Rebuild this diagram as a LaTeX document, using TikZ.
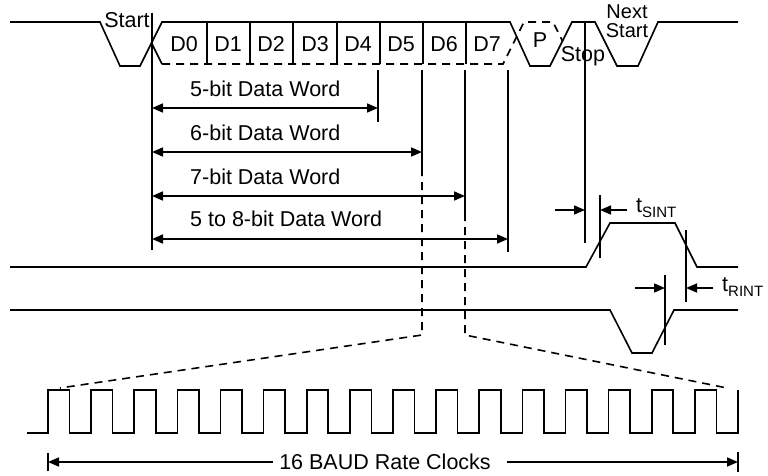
\documentclass[tikz,border=0pt]{standalone}
\usepackage{fontspec}
\setmainfont{Liberation Sans}
\usepackage{tikz}
\usetikzlibrary{arrows.meta}
\tikzset{sig/.style={line width=1.6pt,line join=miter},
  dsig/.style={line width=1.6pt,dash pattern=on 8pt off 6pt},
  dim/.style={line width=1.6pt,-{Triangle[length=11pt,width=9pt]}},
  ddim/.style={line width=1.6pt,{Triangle[length=11pt,width=9pt]}-{Triangle[length=11pt,width=9pt]}},
  lbl/.style={inner sep=0pt,font=\fontsize{21.5}{20.5}\selectfont}}

\begin{document}
\begin{tikzpicture}[x=1pt,y=-1pt]
        \useasboundingbox (0,0) rectangle (768,476);

        \node[lbl] (start) at (127,20) {Start};
        \node[lbl] (d0) at (184,44) {D0};
        \node[lbl] (d1) at (228,44) {D1};
        \node[lbl] (d2) at (271,44) {D2};
        \node[lbl] (d3) at (315,44) {D3};
        \node[lbl] (d4) at (358,44) {D4};
        \node[lbl] (d5) at (401,44) {D5};
        \node[lbl] (d6) at (444,44) {D6};
        \node[lbl] (d7) at (487,44) {D7};
        \node[lbl] (par) at (540,40) {P};
        \node[lbl] (stop) at (583,56) {Stop};
        \node[lbl,align=center,font=\fontsize{20}{19.5}\selectfont] (nstart) at (627,21) {Next\\Start};

        \node[lbl,anchor=west] (w5) at (190,89) {5-bit Data Word};
        \node[lbl,anchor=west] (w6) at (190,133) {6-bit Data Word};
        \node[lbl,anchor=west] (w7) at (190,177) {7-bit Data Word};
        \node[lbl,anchor=west] (w8) at (190,219) {5 to 8-bit Data Word};

        \node[lbl,anchor=west] (tsint) at (636,208) {t\raisebox{-5pt}{\fontsize{15}{15}\selectfont SINT}};
        \node[lbl,anchor=west] (trint) at (722,287) {t\raisebox{-5pt}{\fontsize{15}{15}\selectfont RINT}};
        \node[lbl] (baud) at (385,462) {16 BAUD Rate Clocks};

        \draw[sig] (10,22) -- (100,22) -- (120,66) -- (140,66) -- (162,22) -- (510,22) -- (530,66)
          -- (550,66) -- (572,22) -- (595,22) -- (617,66) -- (638,66) -- (658,22) -- (738,22);
        \draw[sig] (151.5,43) -- (162,64);
        \foreach \x in {207,250,293,337,380,423,466}
          \draw[sig] (\x,22) -- (\x,64);
        \draw[dsig] (162,64) -- (503,64) -- (524,22) -- (553,22) -- (562.5,41);

        \coordinate (v0t) at (152,13);
        \coordinate (v0b) at (152,250);
        \coordinate (v5t) at (378,70);
        \coordinate (v5b) at (378,122);
        \coordinate (v6t) at (422,70);
        \coordinate (v6b) at (422,168);
        \coordinate (v6d) at (422,335);
        \coordinate (v7t) at (465,70);
        \coordinate (v7b) at (465,213);
        \coordinate (v7d) at (465,335);
        \coordinate (v8t) at (508,70);
        \coordinate (v8b) at (508,252);
        \coordinate (stopt) at (585,22);
        \coordinate (stopb) at (585,243);
        \coordinate (cl) at (60,388);
        \coordinate (cr) at (727,388);

        \draw[sig] (v0t) -- (v0b);
        \draw[sig] (v5t) -- (v5b);
        \draw[sig] (v6t) -- (v6b);
        \draw[sig] (v7t) -- (v7b);
        \draw[sig] (v8t) -- (v8b);
        \draw[sig] (stopt) -- (stopb);
        \draw[dsig] (v6b) -- (v6d) -- (cl);
        \draw[dsig] (v7b) -- (v7d) -- (cr);

        \draw[ddim] (152,108) -- (378,108);
        \draw[ddim] (152,152) -- (422,152);
        \draw[ddim] (152,196) -- (465,196);
        \draw[ddim] (152,239) -- (508,239);

        \draw[sig] (10,267) -- (586,267) -- (610,223) -- (675,223) -- (697,267) -- (738,267);
        \draw[sig] (10,310) -- (610,310) -- (632,353) -- (652,353) -- (674,310) -- (738,310);

        \coordinate (s1t) at (600,195);
        \coordinate (s1b) at (600,258);
        \coordinate (r0t) at (665,275);
        \coordinate (r0b) at (665,345);
        \coordinate (r1t) at (686,230);
        \coordinate (r1b) at (686,302);
        \draw[sig] (s1t) -- (s1b);
        \draw[sig] (r0t) -- (r0b);
        \draw[sig] (r1t) -- (r1b);
        \draw[dim] (555,210) -- (585,210);
        \draw[dim] (627,210) -- (600,210);
        \draw[dim] (635,288) -- (665,288);
        \draw[dim] (713,288) -- (686,288);

        \draw[sig] (27,433) -- (48,433) \foreach \k in {0,...,15}{ -- ++(0,-43) -- ++(21.5,0) -- ++(0,43) -- ++(21.625,0)} -- ++(0,-43);

        \coordinate (bl) at (48,462);
        \coordinate (br) at (738,462);
        \draw[sig] (48,453) -- (48,471);
        \draw[sig] (738,452) -- (738,472);
        \draw[dim] (baud.west) ++(-6,0) -- (bl);
        \draw[dim] (baud.east) ++(16,0) -- (br);
    \end{tikzpicture}
\end{document}
